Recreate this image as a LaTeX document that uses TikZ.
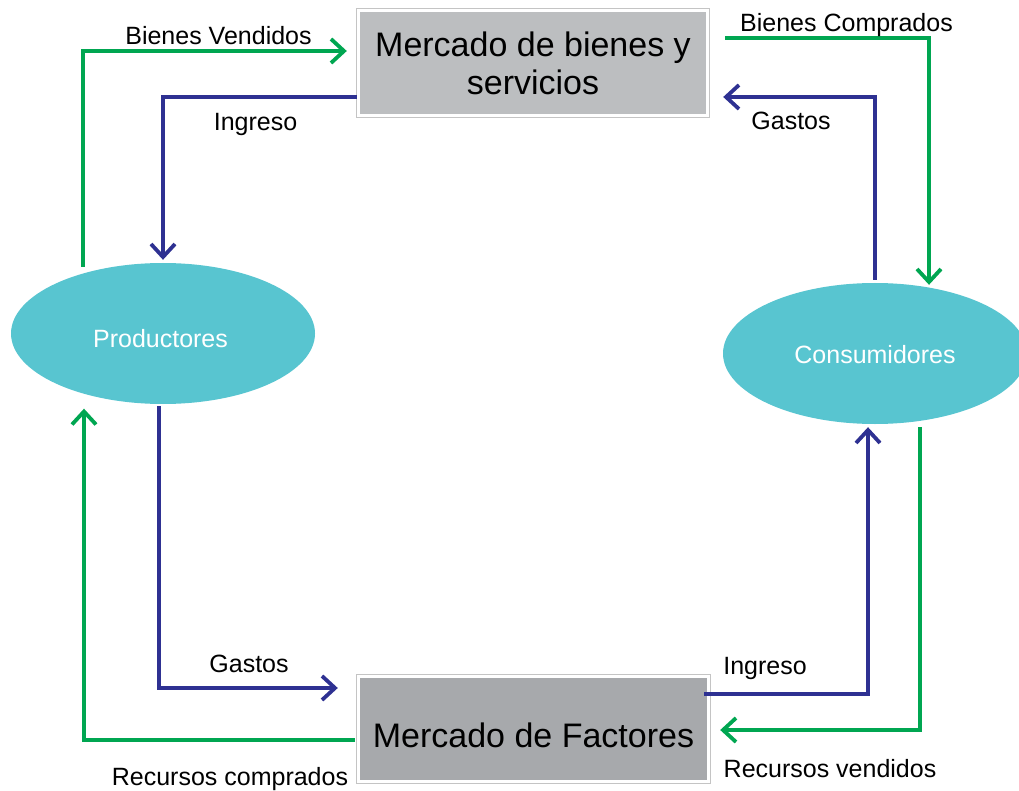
\documentclass[tikz,border=0pt]{standalone}
\usepackage{fontspec}
\setmainfont{Liberation Sans}
\usetikzlibrary{arrows.meta,shapes.geometric}
\definecolor{flowgreen}{HTML}{00A651}
\definecolor{flowblue}{HTML}{2E3192}
\definecolor{ellfill}{HTML}{58C5D0}
\definecolor{topfill}{HTML}{BCBEC0}
\definecolor{botfill}{HTML}{A7A9AC}
\definecolor{framegray}{HTML}{C4C4C4}
\begin{document}
\begin{tikzpicture}[x=1pt,y=-1pt,
  market/.style={rectangle, minimum width=346pt, minimum height=102pt, inner sep=0pt,
    align=center, font=\fontsize{34}{38}\selectfont},
  outerframe/.style={draw=framegray, line width=1.2pt},
  agent/.style={ellipse, fill=ellfill, minimum width=304pt, minimum height=141pt,
    inner sep=0pt, text=white, font=\fontsize{25}{30}\selectfont},
  lbl/.style={anchor=base, font=\fontsize{25}{28}\selectfont},
  flowtip/.style={-{Straight Barb[length=13pt,width=24pt]}},
  gflow/.style={draw=flowgreen, line width=3.8pt, flowtip},
  bflow/.style={draw=flowblue, line width=3.8pt, flowtip}
]
\useasboundingbox (0,0) rectangle (1019,791);

% markets
\node[market, fill=topfill] (top) at (533,63) {Mercado de bienes y\\servicios};
\draw[outerframe] ([shift={(-3pt,3pt)}]top.north west) rectangle ([shift={(3pt,-3pt)}]top.south east);
\node[market, fill=botfill, minimum width=347pt] (bot) at (533.5,729) {\raisebox{-18pt}[0pt][0pt]{Mercado de Factores}};
\draw[outerframe] ([shift={(-3pt,3pt)}]bot.north west) rectangle ([shift={(3pt,-3pt)}]bot.south east);

% agents
\node[agent] (prod) at (163,333.5) {\raisebox{-13.5pt}[0pt][0pt]{Productores}\hspace*{5pt}};
\node[agent] (cons) at (875,353.5) {\raisebox{-9.5pt}[0pt][0pt]{Consumidores}};

% connectors
\coordinate (gv0) at (83,267);
\draw[gflow] (gv0) |- ([xshift=-13pt,yshift=12pt]top.west);
\draw[bflow] ([xshift=-3pt,yshift=-34pt]top.west) -| ([yshift=3pt]prod.north);
\draw[gflow] ([xshift=19pt,yshift=25pt]top.east) -| ([xshift=54pt,yshift=-2pt]cons.north);
\draw[bflow] ([yshift=3pt]cons.north) |- ([xshift=17pt,yshift=-34pt]top.east);
\draw[bflow] ([xshift=-4pt,yshift=-2pt]prod.south) |- ([xshift=-22pt,yshift=41pt]bot.west);
\draw[gflow] ([xshift=-5pt,yshift=-11pt]bot.west) -| ([xshift=-79pt,yshift=-4.5pt]prod.south);
\draw[bflow] ([xshift=-3pt,yshift=35pt]bot.east) -| ([xshift=-7pt,yshift=-3pt]cons.south);
\draw[gflow] ([xshift=45pt,yshift=-3pt]cons.south) |- ([xshift=13pt,yshift=-1pt]bot.east);

% labels
\node[lbl] (l1) at (218.5,45) {Bienes Vendidos};
\node[lbl] (l2) at (255.5,131) {Ingreso};
\node[lbl] (l3) at (846.5,32) {Bienes Comprados};
\node[lbl] (l4) at (791,130) {Gastos};
\node[lbl] (l5) at (249,672) {Gastos};
\node[lbl] (l6) at (230,785) {Recursos comprados};
\node[lbl] (l7) at (765,674) {Ingreso};
\node[lbl] (l8) at (830,777) {Recursos vendidos};
\end{tikzpicture}
\end{document}
